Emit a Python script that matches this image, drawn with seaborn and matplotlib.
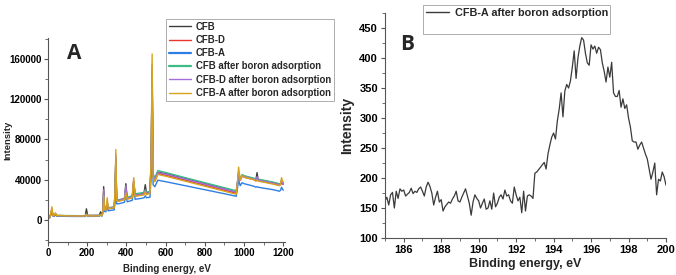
import numpy as np
import pandas as pd
import matplotlib
matplotlib.use("Agg")
import matplotlib.pyplot as plt
from matplotlib.lines import Line2D
from matplotlib.ticker import MultipleLocator
import seaborn as sns

# ---- panel A: XPS survey spectra (binding energy grid shared by all samples)
energy_a = [0, 10, 20, 25, 32, 38, 45, 60, 100, 150, 190, 196, 202, 230, 262, 268,
            275, 280, 284, 288, 295, 302, 307, 320, 338, 342, 346, 350, 360, 390,
            397, 404, 430, 437, 444, 480, 490, 496, 502, 520, 526, 531, 536, 545,
            560, 600, 700, 800, 900, 960, 966, 972, 980, 990, 1000, 1050, 1060,
            1066, 1072, 1100, 1150, 1180, 1186, 1191, 1196, 1200]

cfb = [1800, 2800, 9000, 4500, 4300, 5500, 4300, 4300, 4100, 4000, 4000, 11000,
       4500, 4500, 4600, 8000, 4600, 9000, 33000, 11000, 10500, 15000, 11500, 12000,
       12500, 28000, 60000, 20000, 19500, 21000, 36000, 21500, 23000, 36000, 24500,
       26000, 27000, 35000, 27000, 28000, 55000, 140000, 44000, 40000, 47500, 46000,
       41000, 36000, 31000, 27500, 36000, 45000, 40000, 44500, 43500, 40500, 39500,
       47000, 39500, 39000, 37000, 35500, 35500, 37000, 36000, 36000]
cfb_d = [1600, 2600, 10000, 4400, 4100, 6000, 4100, 4200, 4000, 3900, 3900, 6000,
         4000, 4000, 4100, 5500, 4200, 8500, 28000, 10500, 10000, 17000, 11000, 11500,
         12000, 27000, 62000, 19500, 19000, 20500, 30000, 21000, 22500, 38000, 24000,
         25000, 26000, 29000, 26000, 27000, 55000, 145000, 43000, 39000, 46000, 44500,
         39500, 34500, 29500, 26500, 36000, 47000, 39500, 43500, 42500, 40000, 39000,
         40000, 39000, 38000, 36000, 34500, 35000, 38000, 36000, 35500]
cfb_a = [1200, 2200, 9000, 3800, 3600, 5000, 3600, 3700, 3500, 3400, 3400, 5000,
         3500, 3500, 3600, 4800, 3700, 7000, 26000, 8500, 8000, 14000, 9000, 9500,
         10000, 24000, 55000, 16000, 16000, 17500, 25000, 18000, 19500, 33000, 20500,
         21500, 22000, 24000, 22000, 22500, 45000, 120000, 35000, 33000, 39500, 38000,
         34000, 30000, 26000, 23500, 31000, 40000, 34000, 37000, 36000, 33500, 32500,
         33000, 32500, 31500, 30000, 28500, 29500, 32500, 30500, 29500]
cfb_after = [1700, 2700, 10000, 4600, 4400, 6000, 4400, 4400, 4300, 4200, 4100, 6000,
             4200, 4200, 4300, 5500, 4400, 8500, 27000, 11000, 10800, 17000, 12000, 12500,
             13000, 27000, 62000, 20500, 20000, 21500, 30000, 22500, 24000, 38000, 26000,
             27000, 27500, 30000, 27500, 28500, 58000, 150000, 46000, 42000, 49000, 47200,
             42000, 37000, 32000, 29000, 37000, 47000, 41000, 45000, 44000, 41500, 40500,
             41000, 40500, 39500, 37500, 36000, 36500, 40000, 37500, 37000]
cfb_d_after = [1600, 2600, 11000, 4400, 4200, 6500, 4200, 4200, 4000, 3900, 3900, 5500,
               4000, 4000, 4100, 5000, 4300, 8500, 30000, 10500, 10000, 18000, 11500, 12000,
               12500, 28000, 65000, 20000, 19500, 21000, 34000, 21500, 23000, 40000, 24500,
               25500, 26000, 29000, 26000, 27000, 58000, 155000, 44000, 40000, 47000, 45500,
               40500, 35500, 30500, 27500, 36500, 48000, 40000, 44000, 43000, 40500, 39500,
               43000, 39500, 38500, 36500, 35000, 35500, 39000, 36500, 36000]
cfb_a_after = [1500, 2500, 13000, 4500, 4200, 7000, 4200, 4300, 4000, 3900, 3800, 5500,
               3900, 3900, 4000, 5000, 4200, 8000, 24000, 10000, 9500, 22000, 11000, 11500,
               12000, 30000, 70000, 19000, 18500, 20000, 27000, 20500, 22000, 42000, 23500,
               24500, 25000, 28000, 25000, 26500, 60000, 165000, 42000, 38000, 45200, 43500,
               38500, 33500, 28500, 25500, 37000, 52500, 40000, 44000, 42500, 40000, 38500,
               39500, 38500, 37500, 35500, 34000, 35500, 42000, 38500, 37500]

samples = ["CFB", "CFB-D", "CFB-A", "CFB after boron adsorption",
           "CFB-D after boron adsorption", "CFB-A after boron adsorption"]
sample_colors = ["#3d3d3d", "#e8362c", "#2e7fe3", "#3dbb86", "#a66fd8", "#d8a31c"]

# ---- panel B: B 1s high-resolution scan (0.1 eV steps, 185-200 eV)
energy_b = np.linspace(185.0, 200.0, 151)
intensity_b = [162, 168, 155, 172, 176, 150, 178, 166, 182, 178,
               180, 170, 173, 176, 183, 174, 178, 176, 182, 185,
               178, 170, 185, 193, 186, 175, 155, 168, 178, 160,
               164, 145, 152, 156, 160, 158, 165, 170, 178, 162,
               160, 168, 175, 182, 170, 158, 138, 160, 172, 166,
               162, 150, 158, 165, 148, 150, 162, 148, 175, 152,
               158, 168, 172, 165, 180, 170, 172, 162, 158, 185,
               172, 162, 168, 142, 178, 145, 170, 172, 170, 166,
               208, 210, 214, 218, 222, 226, 215, 240, 255, 268,
               275, 265, 295, 315, 342, 302, 345, 356, 350, 362,
               385, 412, 366, 400, 420, 434, 430, 408, 392, 388,
               422, 415, 420, 408, 418, 414, 392, 378, 360, 385,
               368, 393, 342, 336, 336, 346, 318, 332, 316, 322,
               300, 285, 262, 260, 260, 248, 255, 260, 250, 240,
               232, 215, 198, 210, 225, 172, 198, 195, 210, 202,
               188]

survey = pd.concat([
    pd.DataFrame({"energy": energy_a, "intensity": vals, "sample": name})
    for name, vals in zip(samples, [cfb, cfb_d, cfb_a, cfb_after, cfb_d_after, cfb_a_after])
])
boron = pd.DataFrame({"energy": energy_b, "intensity": intensity_b})

sns.set_style("ticks")
plt.rcParams["font.family"] = ["Liberation Sans", "DejaVu Sans"]
plt.rcParams["font.weight"] = "bold"
plt.rcParams["axes.edgecolor"] = "#555555"
plt.rcParams["xtick.color"] = "#555555"
plt.rcParams["ytick.color"] = "#555555"
plt.rcParams["xtick.labelcolor"] = "black"
plt.rcParams["ytick.labelcolor"] = "black"

fig = plt.figure(figsize=(6.76, 2.75), dpi=100)
ax1 = fig.add_axes([0.071, 0.12, 0.351, 0.742])
ax2 = fig.add_axes([0.5695, 0.1345, 0.4157, 0.818])

# panel A
sns.lineplot(data=survey, x="energy", y="intensity", hue="sample", hue_order=samples,
             palette=sample_colors, estimator=None, sort=False, linewidth=1.0,
             ax=ax1, legend=False)
ax1.set_xlim(0, 1210)
ax1.set_ylim(-22000, 181000)
ax1.xaxis.set_major_locator(MultipleLocator(200))
ax1.xaxis.set_minor_locator(MultipleLocator(100))
ax1.yaxis.set_major_locator(MultipleLocator(40000))
ax1.yaxis.set_minor_locator(MultipleLocator(20000))
ax1.tick_params(which="major", length=3, width=0.8, labelsize=7, pad=1.5)
ax1.tick_params(which="minor", length=2, width=0.6)
ax1.set_xlabel("Binding energy, eV", fontsize=7, fontweight="bold", labelpad=4)
ax1.set_ylabel("Intensity", fontsize=6.8, fontweight="bold")
ax1.yaxis.set_label_coords(-0.152, 0.5)
sns.despine(ax=ax1)
ax1.text(0.08, 0.925, "A", transform=ax1.transAxes, fontsize=15, fontweight="bold",
         family=["Open Sans", "DejaVu Sans"], va="center", ha="left")
handles_a = [Line2D([], [], color=c, lw=1.6 if i in (2, 3) else 1.0)
             for i, c in enumerate(sample_colors)]
leg1 = fig.legend(handles_a, samples, loc="upper left",
                  bbox_to_anchor=(161 / 676, 1 - 14 / 275),
                  frameon=True, fancybox=False, edgecolor="#888888",
                  handlelength=2.3, handletextpad=0.5, labelspacing=0.34,
                  borderpad=0.3, prop={"weight": "bold", "size": 6.9})
leg1.get_frame().set_linewidth(0.6)

# panel B
sns.lineplot(data=boron, x="energy", y="intensity", color="#3a3a3a", linewidth=0.9,
             estimator=None, ax=ax2)
ax2.set_xlim(185, 200)
ax2.set_ylim(100, 475)
ax2.xaxis.set_major_locator(MultipleLocator(2))
ax2.xaxis.set_minor_locator(MultipleLocator(1))
ax2.yaxis.set_major_locator(MultipleLocator(50))
ax2.yaxis.set_minor_locator(MultipleLocator(25))
ax2.tick_params(which="major", length=3, width=0.8, labelsize=8, pad=2)
ax2.tick_params(which="minor", length=2, width=0.6)
ax2.set_xlabel("Binding energy, eV", fontsize=9, fontweight="bold", labelpad=2)
ax2.set_ylabel("Intensity", fontsize=10, fontweight="bold", labelpad=4)
sns.despine(ax=ax2)
ax2.text(0.055, 0.86, "B", transform=ax2.transAxes, fontsize=15, fontweight="bold",
         family=["Open Sans", "DejaVu Sans"], va="center", ha="left")
handles_b = [Line2D([], [], color="#3a3a3a", lw=1.0), Line2D([], [], color="none")]
leg2 = fig.legend(handles_b, ["CFB-A after boron adsorption", " "], loc="upper left",
                  bbox_to_anchor=(418 / 676, 1.0), frameon=True, fancybox=False,
                  edgecolor="#888888", handlelength=2.2, handletextpad=0.5,
                  labelspacing=0.35, borderpad=0.2, prop={"weight": "bold", "size": 7.8})
leg2.get_frame().set_linewidth(0.6)

fig.savefig("out.png", dpi=100)
